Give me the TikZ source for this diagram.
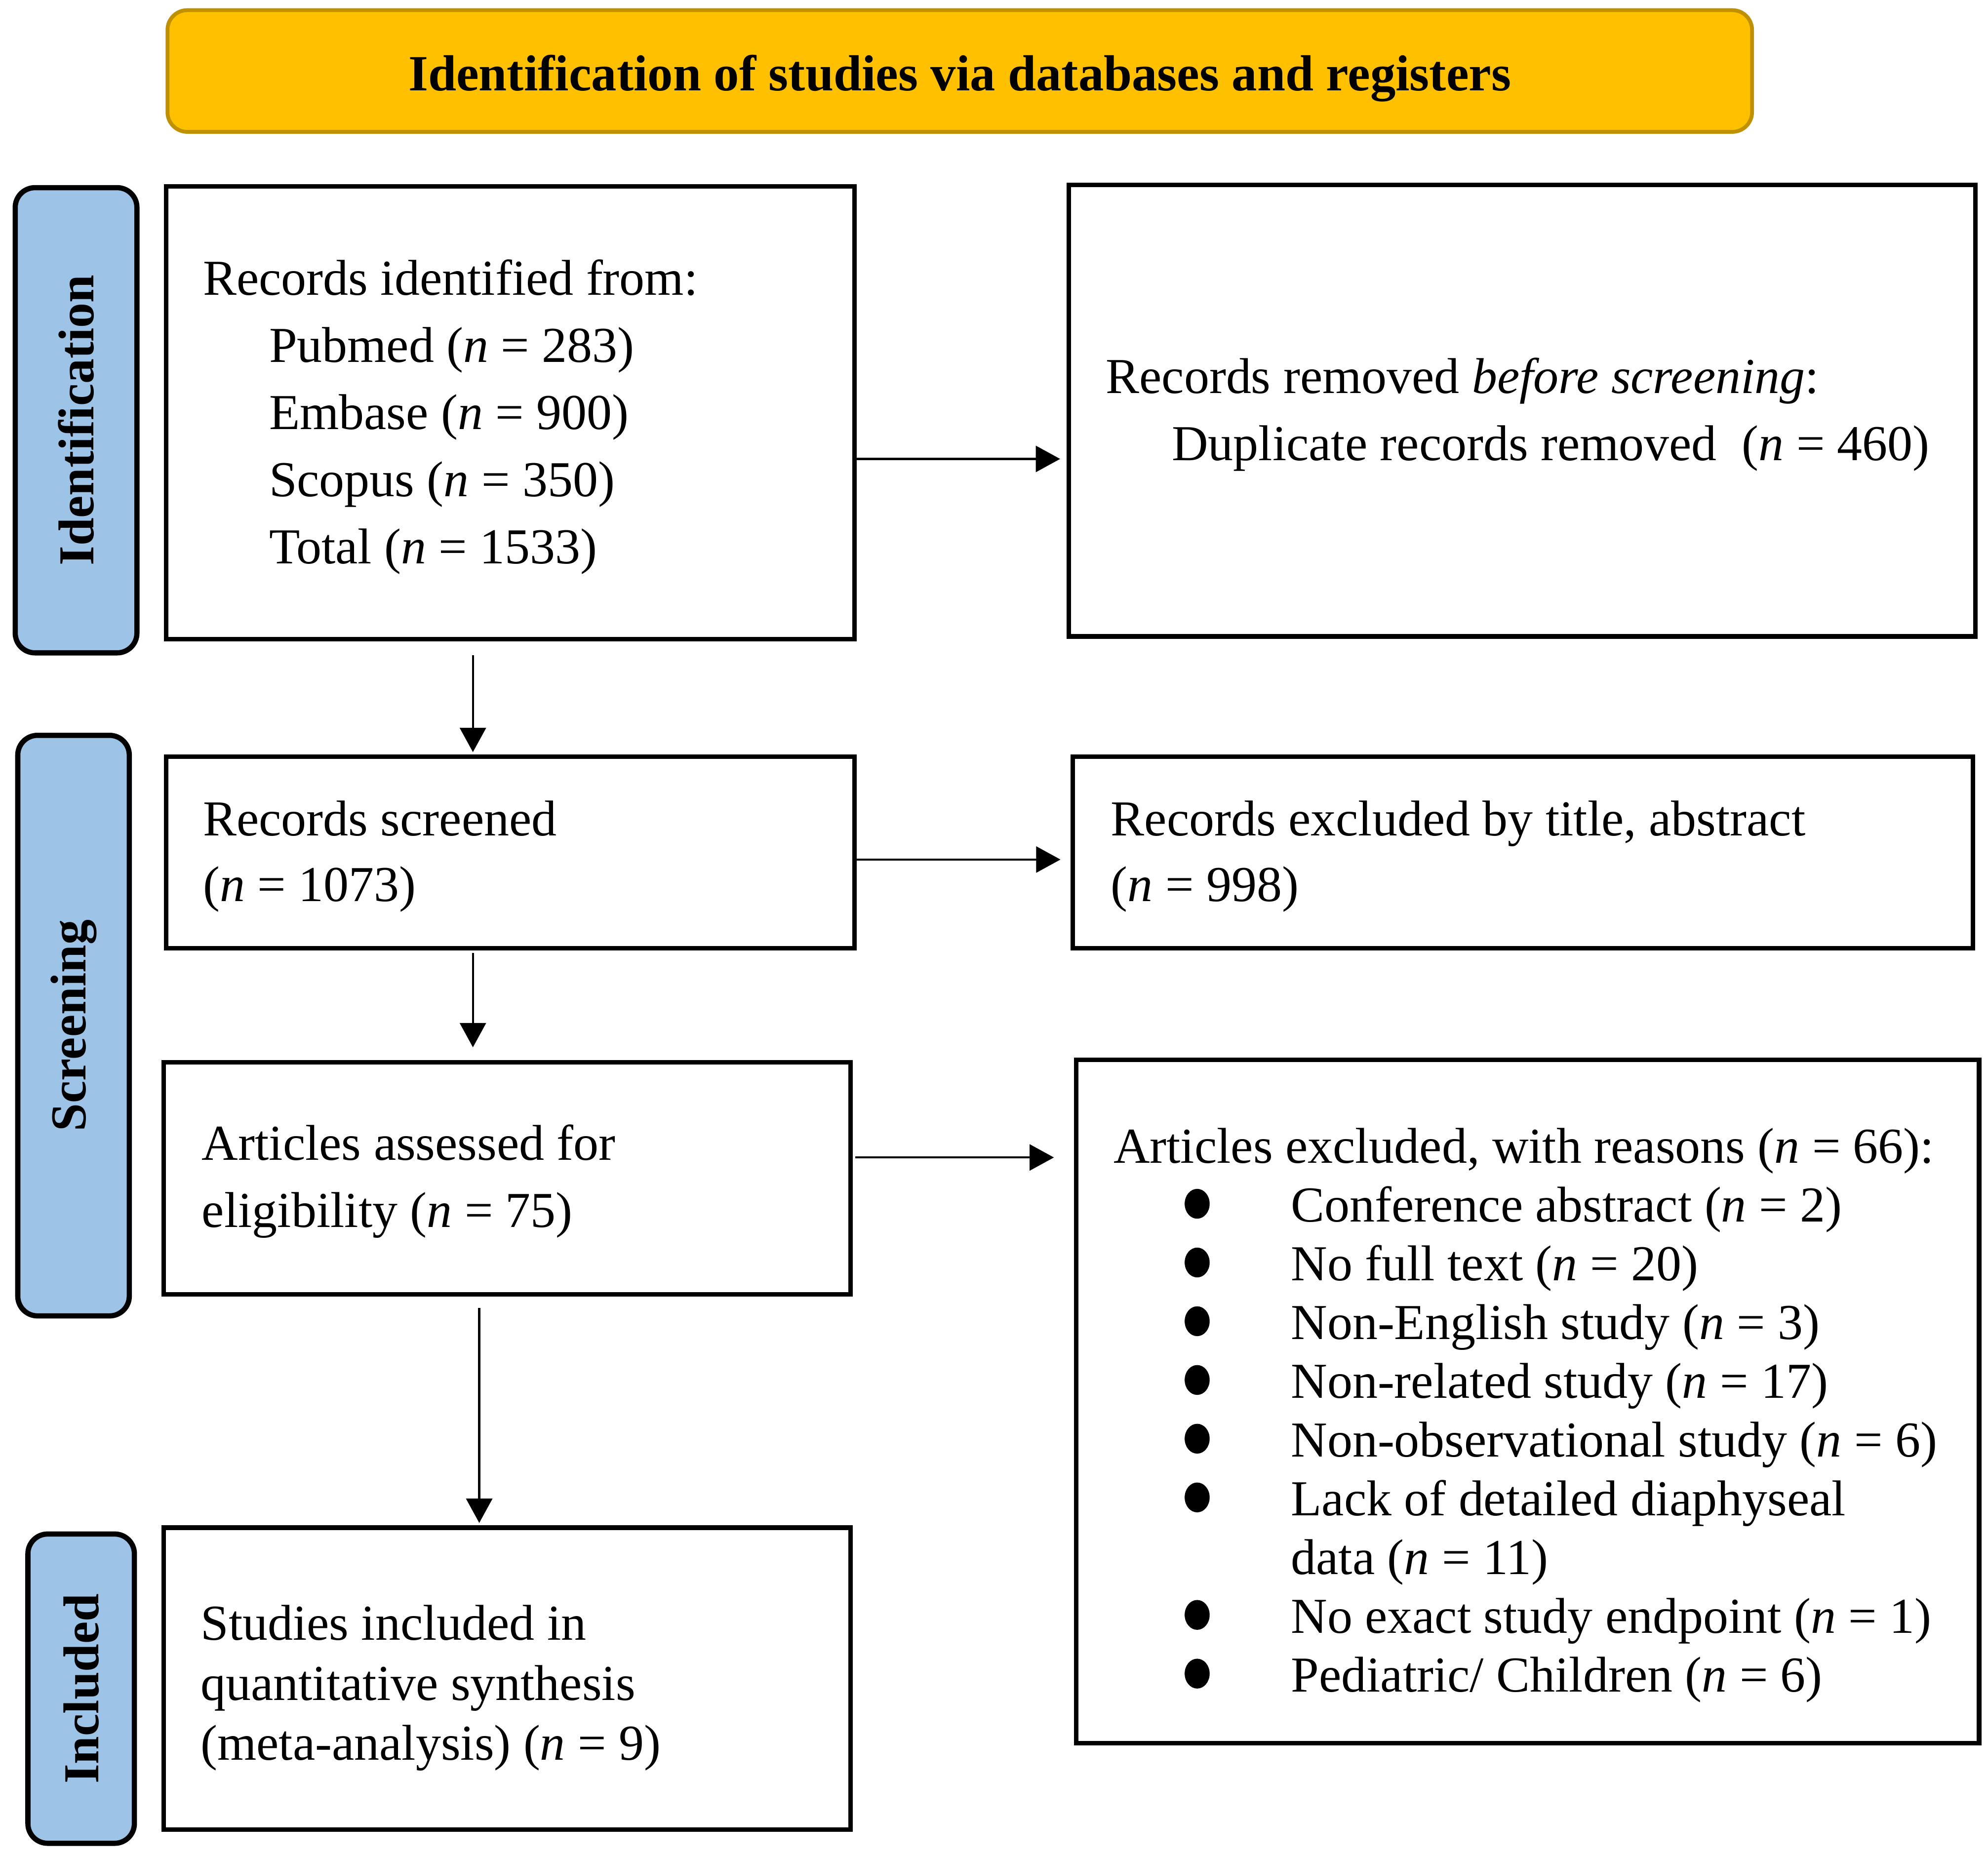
\documentclass[tikz,border=0pt]{standalone}
\usepackage{fontspec}
\setmainfont{Liberation Serif}
\usetikzlibrary{arrows.meta,fit}
\definecolor{bannerfill}{HTML}{FFC000}
\definecolor{bannerdraw}{HTML}{BF9000}
\definecolor{labfill}{HTML}{9DC3E6}
\newcommand{\blt}{\tikz[baseline=0pt]\fill (0pt,10.5pt) ellipse [x radius=7.2pt, y radius=8.6pt];}
\newcommand{\bitem}[1]{\makebox[102.3pt][l]{\hspace*{41pt}\blt}#1}
\begin{document}
\begin{tikzpicture}[x=0.025676cm, y=-0.025676cm,
  box/.style={draw, line width=2.6pt, inner sep=0pt},
  lab/.style={draw, line width=3pt, fill=labfill, rounded corners=0.4cm, inner sep=0pt, rotate=90, font=\fontsize{29}{35}\selectfont\bfseries},
  banner/.style={draw=bannerdraw, line width=2.2pt, fill=bannerfill, rounded corners=0.4cm, inner sep=0pt, text height=26pt, text depth=3.2pt, font=\fontsize{29.2}{35}\selectfont\bfseries},
  txt/.style={align=left, inner sep=0pt, anchor=west, font=\fontsize{29}{38.7}\selectfont},
  arr/.style={line width=1.2pt, -{Triangle[length=14pt,width=15pt]}}]
\useasboundingbox (0,0) rectangle (1568,1464);

% banner
\node[banner, minimum width=32.095cm, minimum height=2.465cm] (top) at (757,56) {Identification of studies via databases and registers};

% side labels
\node[lab, minimum width=9.423cm, minimum height=2.465cm] (lid) at (60,331.5) {Identification};
\node[lab, minimum width=11.760cm, minimum height=2.259cm] (lsc) at (58,809) {Screening};
\node[lab, minimum width=6.265cm, minimum height=2.157cm] (lin) at (64,1332) {Included};

% boxes
\node[box, fit={(131,147) (674,504)}] (b1) {};
\node[box, fit={(843,146) (1558,502)}] (b2) {};
\node[box, fit={(131,597) (674,748)}] (b3) {};
\node[box, fit={(846,597) (1556,748)}] (b4) {};
\node[box, fit={(129,838) (671,1021)}] (b5) {};
\node[box, fit={(849,836) (1561,1375)}] (b6) {};
\node[box, fit={(129,1205) (671,1443)}] (b7) {};

% texts
\node[txt] (t1) at (160,329) {Records identified from:\\
\hspace*{38pt}Pubmed (\textit{n} = 283)\\
\hspace*{38pt}Embase (\textit{n} = 900)\\
\hspace*{38pt}Scopus (\textit{n} = 350)\\
\hspace*{38pt}Total (\textit{n} = 1533)};
\node[txt] (t2) at (872,327) {Records removed \textit{before screening}:\\
\hspace*{38pt}Duplicate records removed\ \ (\textit{n} = 460)};
\node[txt, font=\fontsize{29}{38}\selectfont] (t3) at (160,675.5) {Records screened\\(\textit{n} = 1073)};
\node[txt, font=\fontsize{29}{38}\selectfont] (t4) at (876,675.5) {Records excluded by title, abstract\\(\textit{n} = 998)};
\node[txt] (t5) at (159,932) {Articles assessed for\\eligibility (\textit{n} = 75)};
\node[txt, font=\fontsize{29}{33.85}\selectfont] (t6) at (878,1116.5) {Articles excluded, with reasons (\textit{n} = 66):\\
\bitem{Conference abstract (\textit{n} = 2)}\\
\bitem{No full text (\textit{n} = 20)}\\
\bitem{Non-English study (\textit{n} = 3)}\\
\bitem{Non-related study (\textit{n} = 17)}\\
\bitem{Non-observational study (\textit{n} = 6)}\\
\bitem{Lack of detailed diaphyseal}\\
\hspace*{102.3pt}data (\textit{n} = 11)\\
\bitem{No exact study endpoint (\textit{n} = 1)}\\
\bitem{Pediatric/ Children (\textit{n} = 6)}};
\node[txt, font=\fontsize{29}{34.6}\selectfont] (t7) at (158,1331.5) {Studies included in\\quantitative synthesis\\(meta-analysis) (\textit{n} = 9)};

% arrows
\draw[arr, shorten >=0.13cm] (b1.east |- 0,362) -- (b2.west |- 0,362);
\draw[arr, shorten <=0.28cm, shorten >=0.05cm] (b1.south -| 373,0) -- (b3.north -| 373,0);
\draw[arr, shorten >=0.2cm] (b3.east |- 0,678) -- (b4.west |- 0,678);
\draw[arr, shorten <=0.05cm, shorten >=0.26cm] (b3.south -| 373,0) -- (b5.north -| 373,0);
\draw[arr, shorten <=0.05cm, shorten >=0.41cm] (b5.east |- 0,913) -- (b6.west |- 0,913);
\draw[arr, shorten <=0.23cm, shorten >=0.05cm] (b5.south -| 378,0) -- (b7.north -| 378,0);
\end{tikzpicture}
\end{document}
